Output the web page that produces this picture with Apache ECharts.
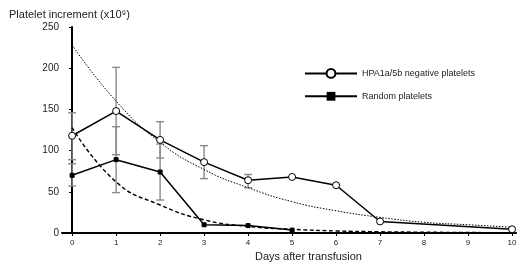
<!DOCTYPE html>
<html>
<head>
<meta charset="utf-8">
<script src="https://cdn.jsdelivr.net/npm/echarts@6/dist/echarts.min.js"></script>
<style>
  * { margin: 0; padding: 0; }
  #chart-container { width: 520px; height: 264px; background: #fff; }
</style>
</head>
<body>
<div id="chart-container"></div>
<script>
  // days on the x axis
  var dayTicks = [0, 1, 2, 3, 4, 5, 6, 7, 8, 9, 10]
  var yTicks = [0, 50, 100, 150, 200, 250]

  // HPA1a/5b negative platelets (open circles)
  var hpaDays = [0, 1, 2, 3, 4, 5, 6, 7, 10]
  var hpaValues = [118, 148, 113, 86, 64, 68, 58, 14, 4.5]
  var hpaErrDays = [0, 1, 2, 3, 4]
  var hpaErrLow = [89, 95, 91, 66, 55]
  var hpaErrHigh = [146, 201, 135, 106, 71]

  // Random platelets (filled squares)
  var randomDays = [0, 1, 2, 3, 4, 5]
  var randomValues = [70, 89, 74, 10, 9, 3.5]
  var randomErrDays = [0, 1, 2]
  var randomErrLow = [57, 49, 40]
  var randomErrHigh = [84, 129, 108]

  // fitted decay curves
  var fitDays = [0, 1, 2, 3, 4, 5, 6, 7, 8, 9, 10]
  var hpaFit = [228, 160, 110, 77, 55, 38, 27, 19, 13, 10, 7]
  var randomFit = [128, 62, 34, 16, 8, 4.5, 2.5, 1.5, 1, 0.6, 0.4]

  function pairs(xs, ys) {
    return xs.map(function (x, i) { return [x, ys[i]] })
  }
  function triples(xs, lo, hi) {
    return xs.map(function (x, i) { return [x, lo[i], hi[i]] })
  }

  function errorBar(params, api) {
    var x = api.value(0)
    var lo = api.coord([x, api.value(1)])
    var hi = api.coord([x, api.value(2)])
    var w = 4
    var st = { stroke: '#8a8a8a', lineWidth: 1.4 }
    return {
      type: 'group',
      children: [
        { type: 'line', shape: { x1: lo[0], y1: lo[1], x2: hi[0], y2: hi[1] }, style: st },
        { type: 'line', shape: { x1: lo[0] - w, y1: lo[1], x2: lo[0] + w, y2: lo[1] }, style: st },
        { type: 'line', shape: { x1: hi[0] - w, y1: hi[1], x2: hi[0] + w, y2: hi[1] }, style: st },
      ],
    }
  }

  var myChart = echarts.init(document.getElementById('chart-container'), null, { renderer: 'canvas' })
  var option = {
    animation: false,
    textStyle: { fontFamily: 'Liberation Sans, Arial, sans-serif' },
    title: {
      text: 'Platelet increment (x10⁹)',
      left: 4,
      top: 4,
      textStyle: { fontSize: 11, fontWeight: 'normal', color: '#222' },
    },
    legend: {
      orient: 'vertical',
      left: 299,
      top: 63,
      itemWidth: 52,
      itemHeight: 11,
      itemGap: 13,
      textStyle: { fontSize: 9, color: '#222' },
      data: ['HPA1a/5b negative platelets', 'Random platelets'],
    },
    grid: { left: 62, top: 27, right: 4, bottom: 31 },
    xAxis: {
      type: 'value',
      min: -0.23,
      max: 10.09,
      name: 'Days after transfusion',
      nameLocation: 'start',
      nameGap: 0,
      nameTextStyle: { fontSize: 11, color: '#222', align: 'left', verticalAlign: 'top', padding: [18, 0, 0, 193] },
      axisLine: { lineStyle: { color: '#000', width: 2 } },
      axisTick: { customValues: dayTicks, length: 3, lineStyle: { color: '#000' } },
      axisLabel: { customValues: dayTicks, fontSize: 8, color: '#222', margin: 6 },
      splitLine: { show: false },
    },
    yAxis: {
      type: 'value',
      min: 0,
      max: 250,
      interval: 50,
      axisLine: { show: true, lineStyle: { color: '#000', width: 2 } },
      axisTick: { show: true, customValues: yTicks, length: 3, lineStyle: { color: '#000' } },
      axisLabel: { customValues: yTicks, fontSize: 10, color: '#222', margin: 3 },
      splitLine: { show: false },
    },
    series: [
      {
        type: 'custom',
        renderItem: errorBar,
        data: triples(hpaErrDays, hpaErrLow, hpaErrHigh),
        z: 1,
        silent: true,
      },
      {
        type: 'custom',
        renderItem: errorBar,
        data: triples(randomErrDays, randomErrLow, randomErrHigh),
        z: 1,
        silent: true,
      },
      {
        type: 'line',
        data: pairs(fitDays, hpaFit),
        smooth: true,
        showSymbol: false,
        lineStyle: { color: '#000', width: 1, type: [1.5, 1.5] },
        z: 2,
      },
      {
        type: 'line',
        data: pairs(fitDays, randomFit),
        smooth: true,
        showSymbol: false,
        lineStyle: { color: '#000', width: 1.4, type: [4, 2.5] },
        z: 2,
      },
      {
        name: 'HPA1a/5b negative platelets',
        type: 'line',
        data: pairs(hpaDays, hpaValues),
        symbol: 'circle',
        symbolSize: 7,
        itemStyle: { color: '#fff', borderColor: '#000', borderWidth: 1 },
        lineStyle: { color: '#000', width: 1.5 },
        z: 3,
      },
      {
        name: 'Random platelets',
        type: 'line',
        data: pairs(randomDays, randomValues),
        symbol: 'rect',
        symbolSize: 4,
        itemStyle: { color: '#000', borderColor: '#000' },
        lineStyle: { color: '#000', width: 1.5 },
        z: 3,
      },
    ],
  }
  myChart.setOption(option)
  window.addEventListener('resize', myChart.resize)
</script>
</body>
</html>
